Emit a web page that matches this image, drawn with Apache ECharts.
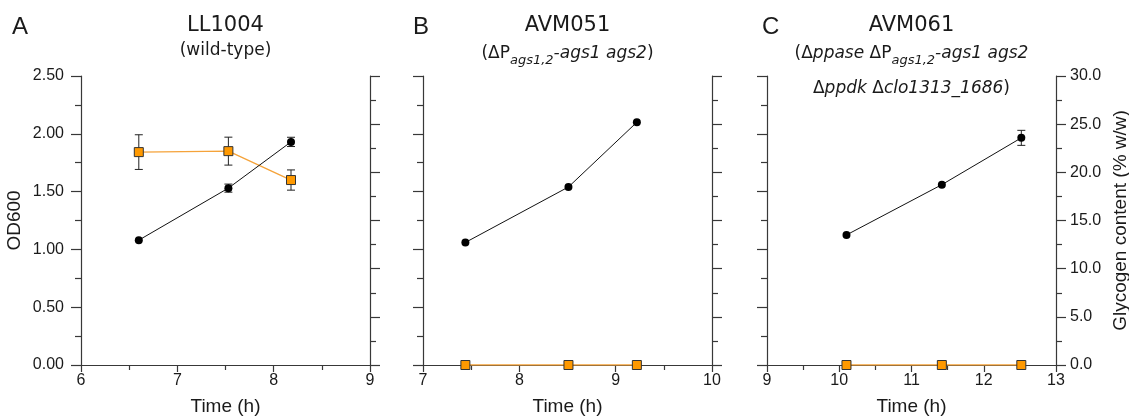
<!DOCTYPE html>
<html>
<head>
<meta charset="utf-8">
<script src="https://cdn.jsdelivr.net/npm/echarts@6/dist/echarts.min.js"></script>
<style>
  html, body { margin: 0; padding: 0; background: #fff; }
  #chart { width: 1129px; height: 417px; }
</style>
</head>
<body>
<div id="chart"></div>
<script>
// time points (h) per strain
const timeA = [6.6, 7.53, 8.18];
const timeB = [7.44, 8.51, 9.22];
const timeC = [10.10, 11.42, 12.52];

// OD600 (left axis) with standard deviation
const odA = [1.08, 1.53, 1.93];
const odErrA = [0, 0.035, 0.04];
const odB = [1.06, 1.54, 2.10];
const odErrB = [0, 0, 0];
const odC = [1.125, 1.56, 1.965];
const odErrC = [0, 0, 0.065];

// glycogen content % w/w (right axis) with standard deviation
const glyA = [22.1, 22.2, 19.2];
const glyErrA = [1.8, 1.45, 1.05];
const glyB = [0, 0, 0];
const glyErrB = [0, 0, 0];
const glyC = [0, 0, 0];
const glyErrC = [0, 0, 0];

// axis ranges
const xRangeA = [6, 9];
const xRangeB = [7, 10];
const xRangeC = [9, 13];
const odRange = [0, 2.5];
const glyRange = [0, 30];

const AXIS = '#383838';
const TXT = '#1a1a1a';
const ORANGE = '#FF9900';
const ORANGE_LINE = '#F5A33A';

const grids = [
  {left: 81, top: 76, width: 289, height: 289, outerBoundsMode: 'none'},
  {left: 423, top: 76, width: 289, height: 289, outerBoundsMode: 'none'},
  {left: 767, top: 76, width: 289, height: 289, outerBoundsMode: 'none'}
];

function xAxisFor (idx, range){
    return {
        type: 'value',
        gridIndex: idx,
        min: range[0],
        max: range[1],
        interval: 1,
        name: 'Time (h)',
        nameLocation: 'middle',
        nameGap: 32,
        nameTextStyle: {fontFamily: 'Liberation Sans', fontSize: 19, color: TXT},
        axisLine: {onZero: false, lineStyle: {color: AXIS, width: 1.2}},
        axisTick: {inside: false, length: 7, lineStyle: {color: AXIS, width: 1.2}},
        minorTick: {show: true, splitNumber: 2, length: 5, lineStyle: {color: AXIS, width: 1.2}},
        axisLabel: {fontFamily: 'Liberation Sans', fontSize: 16, color: TXT, margin: 8},
        splitLine: {show: false},
        minorSplitLine: {show: false}
    };
}

function yAxisFor (idx, side, showLabel){
    const left = side === 'left';
    const y = {
        type: 'value',
        gridIndex: idx,
        position: side,
        min: left ? odRange[0] : glyRange[0],
        max: left ? odRange[1] : glyRange[1],
        interval: left ? 0.5 : 5,
        axisLine: {show: true, onZero: false, lineStyle: {color: AXIS, width: 1.2}},
        axisTick: {show: true, inside: false, length: 10, lineStyle: {color: AXIS, width: 1.2}},
        minorTick: {show: true, splitNumber: 2, length: 6, lineStyle: {color: AXIS, width: 1.2}},
        axisLabel: {
            show: showLabel,
            fontFamily: 'Liberation Sans',
            fontSize: 16,
            color: TXT,
            margin: left ? 17 : 14,
            formatter: v => v.toFixed(left ? 2 : 1)
        },
        splitLine: {show: false},
        minorSplitLine: {show: false}
    };
    if (showLabel){
        y.name = left ? 'OD600' : 'Glycogen content (% w/w)';
        y.nameLocation = 'middle';
        y.nameGap = left ? 57 : 55;
        y.nameTextStyle = {fontFamily: 'Liberation Sans', fontSize: 19, color: TXT};
    }
    return y;
}

function errData (t, v, e){
    let out = [];
    t.forEach((x, i) => {
        if (e[i] > 0) out.push([x, v[i] - e[i], v[i] + e[i]]);
    });
    return out;
}

function errSeries (xi, yi, data){
    return {
        type: 'custom',
        xAxisIndex: xi,
        yAxisIndex: yi,
        z: 1,
        silent: true,
        encode: {x: 0, y: [1, 2]},
        data: data,
        renderItem: (params, api) => {
            const x = api.value(0);
            const top = api.coord([x, api.value(2)]);
            const bot = api.coord([x, api.value(1)]);
            const w = 4;
            const st = {stroke: '#222', lineWidth: 1};
            return {
                type: 'group',
                children: [
                    {type: 'line', shape: {x1: top[0], y1: top[1], x2: bot[0], y2: bot[1]}, style: st},
                    {type: 'line', shape: {x1: top[0] - w, y1: top[1], x2: top[0] + w, y2: top[1]}, style: st},
                    {type: 'line', shape: {x1: bot[0] - w, y1: bot[1], x2: bot[0] + w, y2: bot[1]}, style: st}
                ]
            };
        }
    };
}

function pair (t, v){
    return t.map((x, i) => [x, v[i]]);
}

function panelSeries (idx, t, od, odErr, gly, glyErr){
    const yl = idx * 2, yr = idx * 2 + 1;
    return [
        errSeries(idx, yr, errData(t, gly, glyErr)),
        errSeries(idx, yl, errData(t, od, odErr)),
        {
            type: 'line',
            xAxisIndex: idx,
            yAxisIndex: yr,
            z: 3,
            data: pair(t, gly),
            symbol: 'rect',
            symbolSize: 9,
            showSymbol: true,
            lineStyle: {color: ORANGE_LINE, width: 1.3},
            itemStyle: {color: ORANGE, borderColor: '#333', borderWidth: 1}
        },
        {
            type: 'line',
            xAxisIndex: idx,
            yAxisIndex: yl,
            z: 4,
            data: pair(t, od),
            symbol: 'circle',
            symbolSize: 8,
            showSymbol: true,
            lineStyle: {color: '#111', width: 1},
            itemStyle: {color: '#000'}
        }
    ];
}

// titles: strain name, genotype (with italic / subscript parts) and panel letter
const titleFont = 'DejaVu Sans';
const rich = {
    n: {fontFamily: titleFont, fontSize: 17, color: TXT, lineHeight: 26, verticalAlign: 'middle'},
    i: {fontFamily: titleFont, fontSize: 17, fontStyle: 'italic', color: TXT, lineHeight: 26, verticalAlign: 'middle'},
    s: {fontFamily: titleFont, fontSize: 13, fontStyle: 'italic', color: TXT, lineHeight: 26, verticalAlign: 'bottom'}
};

function centerX (g){
    return g.left + g.width / 2;
}

function txt (x, y, text, size, extra){
    return {
        type: 'text',
        x: x,
        y: y,
        style: Object.assign({
            text: text,
            fontFamily: titleFont,
            fontSize: size,
            fill: TXT,
            align: 'center',
            verticalAlign: 'middle'
        }, extra || {})
    };
}

const letterStyle = {fontFamily: 'Liberation Sans', align: 'left'};

const graphics = [
    txt(12, 27, 'A', 24, letterStyle),
    txt(413, 27, 'B', 24, letterStyle),
    txt(762, 27, 'C', 24, letterStyle),
    txt(centerX(grids[0]), 26, 'LL1004', 21),
    txt(centerX(grids[1]), 26, 'AVM051', 21),
    txt(centerX(grids[2]), 26, 'AVM061', 21),
    txt(centerX(grids[0]), 51, '{n|(wild-type)}', 17, {rich: rich}),
    txt(centerX(grids[1]), 54, '{n|(ΔP}{s|ags1,2}{i|-ags1 ags2}{n|)}', 17, {rich: rich}),
    txt(centerX(grids[2]), 54, '{n|(Δ}{i|ppase}{n| ΔP}{s|ags1,2}{i|-ags1 ags2}', 17, {rich: rich}),
    txt(centerX(grids[2]), 89, '{n|Δ}{i|ppdk}{n| Δ}{i|clo1313_1686}{n|)}', 17, {rich: rich})
];

const chart = echarts.init(document.getElementById('chart'));
chart.setOption({
    animation: false,
    backgroundColor: '#fff',
    grid: grids,
    xAxis: [xAxisFor(0, xRangeA), xAxisFor(1, xRangeB), xAxisFor(2, xRangeC)],
    yAxis: [
        yAxisFor(0, 'left', true), yAxisFor(0, 'right', false),
        yAxisFor(1, 'left', false), yAxisFor(1, 'right', false),
        yAxisFor(2, 'left', false), yAxisFor(2, 'right', true)
    ],
    series: [].concat(
        panelSeries(0, timeA, odA, odErrA, glyA, glyErrA),
        panelSeries(1, timeB, odB, odErrB, glyB, glyErrB),
        panelSeries(2, timeC, odC, odErrC, glyC, glyErrC)
    ),
    graphic: graphics
});
</script>
</body>
</html>
